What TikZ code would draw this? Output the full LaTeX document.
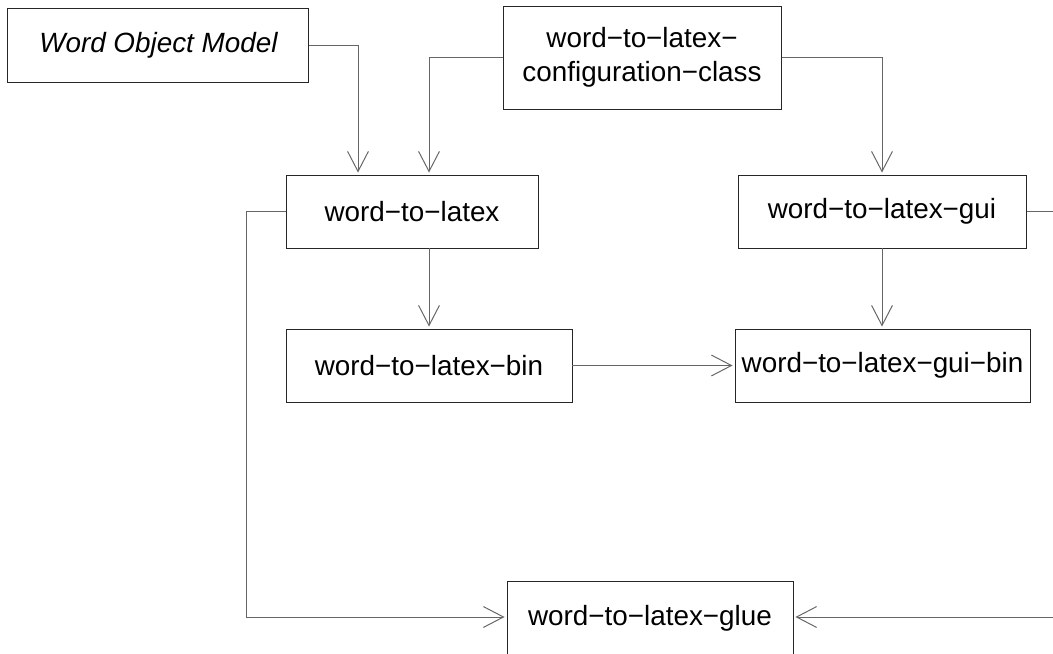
\documentclass[tikz,border=0pt]{standalone}
\usepackage{fontspec}
\setmainfont{Liberation Sans}
\usetikzlibrary{arrows.meta}

\tikzset{
  box/.style={draw=black!85, line width=0.7pt, fill=white, inner sep=0pt, minimum height=1.825cm},
  link/.style={draw=black!60, line width=0.7pt},
  conn/.style={link, shorten >=0.05cm, -{Straight Barb[length=0.5cm,width=0.52cm]}},
}

\begin{document}
\begin{tikzpicture}[font=\fontsize{19.8}{24}\selectfont]
	\useasboundingbox[fill=white] (0,0) rectangle (26.325,16.325);
	\clip (0,0) rectangle (26.325,16.325);

	\node (WOM) at (3.96,15.2) [box, minimum width=7.525cm, minimum height=1.85cm] {\itshape Word Object Model};
	\node (Config) at (16.05,14.8875) [box, minimum width=6.95cm, minimum height=2.575cm, align=center] {word−to−latex−\\configuration−class};
	\node (W2L) at (10.3,11.0375) [box, minimum width=6.3cm] {word−to−latex};
	\node (Gui) at (22.05,11.0375) [box, minimum width=7.2cm] {word−to−latex−gui};
	\node (Bin) at (10.725,7.1875) [box, minimum width=7.15cm] {word−to−latex−bin};
	\node (GuiBin) at (22.0625,7.1875) [box, minimum width=7.375cm] {word−to−latex−gui−bin};
	\node (Glue) at (16.25,1.8) [box, anchor=north, minimum width=7.15cm, text height=1.1cm, text depth=1.1cm] {word−to−latex−glue};
	\coordinate (GlueIn) at (16.25,0.9);

	% Eingaenge von word-to-latex
	\draw[conn] (WOM.east) -| ([xshift=-1.35cm]W2L.north);
	\draw[conn] (Config.west) -| (W2L.north -| Bin.north);
	\draw[conn] (Config.east) -| (Gui.north);

	% nach unten zu den bin-Paketen
	\draw[conn] (W2L.south -| Bin.north) -- (Bin.north);
	\draw[conn] (Gui.south) -- (Gui.south |- GuiBin.north);
	\draw[conn] (Bin.east) -- (GuiBin.west);

	% glue
	\draw[conn] (W2L.west) -- ++(-0.975,0) |- (GlueIn -| Glue.west);
	\draw[conn] (Gui.east) -- ++(1.5,0) |- (GlueIn -| Glue.east);
\end{tikzpicture}
\end{document}
